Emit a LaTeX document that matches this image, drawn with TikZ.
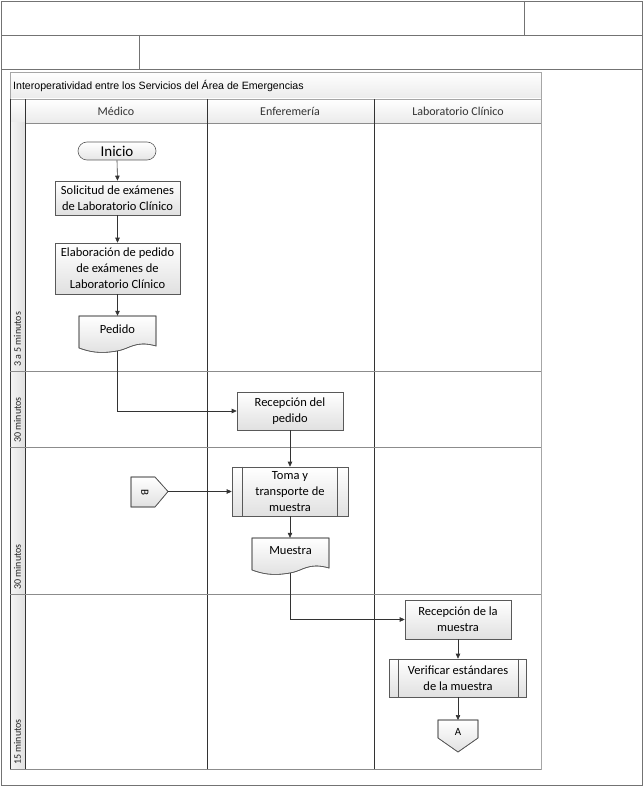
\documentclass[tikz,border=0pt]{standalone}
\usepackage{fontspec}
\setmainfont{Carlito}
\newfontfamily\arialf{Liberation Sans}
\usetikzlibrary{arrows.meta,calc}
\tikzset{
  frame/.style={draw=black!55, line width=0.8pt},
  lanev/.style={draw=black!80, line width=0.7pt},
  phaseh/.style={draw=black!45, line width=0.8pt},
  proc/.style={draw=black!65, line width=0.6pt, top color=white, bottom color=black!12, align=center, font=\fontsize{12.5}{16}\selectfont, inner sep=0pt},
  term/.style={draw=black!65, line width=0.6pt, top color=white, bottom color=black!10, rounded corners=9pt, font=\fontsize{15}{16}\selectfont, inner sep=0pt},
  docshape/.style={draw=black!65, line width=0.6pt, top color=white, bottom color=black!12},
  flow/.style={draw=black!80, line width=0.6pt, -{Triangle[length=5pt,width=4.5pt]}},
  lanetxt/.style={font=\fontsize{12}{14}\selectfont, text=black!80},
  phasetxt/.style={font=\fontsize{10}{12}\selectfont, rotate=90, anchor=west, text=black!85, inner sep=1pt},
}
\begin{document}
\begin{tikzpicture}[x=1pt,y=-1pt]
\useasboundingbox (0,0) rectangle (643,786);
% page frame
\draw[frame] (1,1) rectangle (642,785);
\draw[frame] (1,35) -- (642,35);
\draw[frame] (1,69) -- (642,69);
\draw[frame] (524,1) -- (524,35);
\draw[frame] (139,35) -- (139,69);
% pool
\shade[top color=white, bottom color=black!8] (10,72) rectangle (541,99);
\shade[top color=white, bottom color=black!8] (10,99) rectangle (541,123);
\shade[left color=black!4, right color=black!12] (10,123) rectangle (25,769);
\draw[draw=black!35, line width=0.6pt] (10,72) rectangle (541,769);
\draw[draw=black!35, line width=0.6pt] (10,99) -- (541,99);
\draw[draw=black!45, line width=0.7pt] (25,123) -- (541,123);
\node[anchor=west, font=\arialf\fontsize{10.6}{12}\selectfont, inner sep=0pt] (title) at (13,86) {Interoperatividad entre los Servicios del Área de Emergencias};
% lane lines
\draw[lanev] (25,99) -- (25,769);
\draw[lanev] (207,99) -- (207,769);
\draw[lanev] (374,99) -- (374,769);
\draw[draw=black!80, line width=0.7pt] (10,99) -- (10,769);
% phase separators
\draw[phaseh] (10,371) -- (541,371);
\draw[phaseh] (10,447) -- (541,447);
\draw[phaseh] (10,594) -- (541,594);
\draw[phaseh] (10,769) -- (541,769);
% lane names
\node[lanetxt] (l1) at (116,111) {Médico};
\node[lanetxt] (l2) at (290,111) {Enferemería};
\node[lanetxt] (l3) at (458,111) {Laboratorio Clínico};
% phase labels
\node[phasetxt] (p1) at (17.5,368) {3 a 5 minutos};
\node[phasetxt] (p2) at (17.5,444) {30 minutos};
\node[phasetxt] (p3) at (17.5,591) {30 minutos};
\node[phasetxt] (p4) at (17.5,766) {15 minutos};

% nodes
\node[term, minimum width=78pt, minimum height=18pt] (inicio) at (117,151) {Inicio};
\node[proc, minimum width=125pt, minimum height=34pt] (sol) at (117.5,198) {Solicitud de exámenes\\de Laboratorio Clínico};
\node[proc, minimum width=125pt, minimum height=51pt] (elab) at (117.5,268.5) {Elaboración de pedido\\de exámenes de\\Laboratorio Clínico};
% Pedido document
\shade[docshape] (79,316) -- (156,316) -- (156,346) .. controls (135,340) and (130,349) .. (117,351) .. controls (100,354) and (90,352) .. (79,348) -- cycle;
\draw[draw=black!65, line width=0.6pt] (79,316) -- (156,316) -- (156,346) .. controls (135,340) and (130,349) .. (117,351) .. controls (100,354) and (90,352) .. (79,348) -- cycle;
\node[inner sep=0pt, minimum width=77pt, minimum height=35pt] (pedido) at (117.5,333.5) {};
\node[font=\fontsize{12.5}{14}\selectfont] (pedidotxt) at (117.5,329) {Pedido};
\coordinate (pedbot) at (117.5,351);

\node[proc, minimum width=106pt, minimum height=38pt] (recped) at (290,411) {Recepción del\\pedido};
\node[proc, minimum width=116pt, minimum height=49pt] (toma) at (290,491.5) {Toma y\\transporte de\\muestra};
\draw[draw=black!65, line width=0.6pt] ([xshift=11pt]toma.north west) -- ([xshift=11pt]toma.south west);
\draw[draw=black!65, line width=0.6pt] ([xshift=-11pt]toma.north east) -- ([xshift=-11pt]toma.south east);

% B connector
\shade[docshape] (131,477) -- (155,477) -- (168,491.5) -- (155,507) -- (131,507) -- cycle;
\draw[draw=black!65, line width=0.6pt] (131,477) -- (155,477) -- (168,491.5) -- (155,507) -- (131,507) -- cycle;
\node[rotate=-90, font=\fontsize{11}{12}\selectfont, inner sep=0pt] (B) at (145,492) {B};
\coordinate (Btip) at (168,491.5);

% Muestra document
\shade[docshape] (252,538) -- (329,538) -- (329,568) .. controls (308,562) and (303,571) .. (290,573) .. controls (273,576) and (263,574) .. (252,570) -- cycle;
\draw[draw=black!65, line width=0.6pt] (252,538) -- (329,538) -- (329,568) .. controls (308,562) and (303,571) .. (290,573) .. controls (273,576) and (263,574) .. (252,570) -- cycle;
\node[inner sep=0pt, minimum width=77pt, minimum height=35pt] (muestra) at (290,555.5) {};
\node[font=\fontsize{12.5}{14}\selectfont] (muestratxt) at (290.5,551) {Muestra};
\coordinate (muebot) at (290,573);

\node[proc, minimum width=106pt, minimum height=39pt] (recmue) at (458,619.5) {Recepción de la\\muestra};
\node[proc, minimum width=137pt, minimum height=38pt] (verif) at (458,678) {Verificar estándares\\de la muestra};
\draw[draw=black!65, line width=0.6pt] ([xshift=9pt]verif.north west) -- ([xshift=9pt]verif.south west);
\draw[draw=black!65, line width=0.6pt] ([xshift=-9pt]verif.north east) -- ([xshift=-9pt]verif.south east);

% A connector
\shade[docshape] (438,720) -- (478,720) -- (478,738) -- (458,752) -- (438,738) -- cycle;
\draw[draw=black!65, line width=0.6pt] (438,720) -- (478,720) -- (478,738) -- (458,752) -- (438,738) -- cycle;
\node[font=\fontsize{11}{12}\selectfont, inner sep=0pt] (A) at (458,732) {A};
\coordinate (Atop) at (458,720);

% connectors
\draw[flow] (inicio.south) -- (sol.north);
\draw[flow] (sol.south) -- (elab.north);
\draw[flow] (elab.south) -- (pedido.north);
\draw[flow] (pedbot) |- (recped.west);
\draw[flow] (recped.south) -- (toma.north);
\draw[flow] (Btip) -- (toma.west);
\draw[flow] (toma.south) -- (muestra.north);
\draw[flow] (muebot) |- (recmue.west);
\draw[flow] (recmue.south) -- (verif.north);
\draw[flow] (verif.south) -- (Atop);
\end{tikzpicture}
\end{document}
